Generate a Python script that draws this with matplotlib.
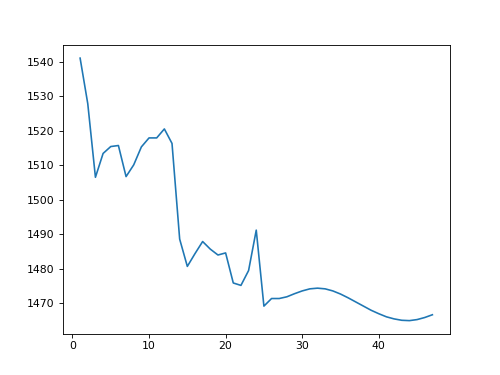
import matplotlib
matplotlib.use('Agg')
import matplotlib.pyplot as plt

# x runs 1..47
steps = list(range(1, 48))
values = [1541.0, 1527.8, 1506.5, 1513.4, 1515.4, 1515.7, 1506.7, 1510.1,
          1515.3, 1517.9, 1517.9, 1520.5, 1516.3, 1488.6, 1480.7, 1484.4,
          1487.9, 1485.7, 1484.0, 1484.6, 1475.9, 1475.2, 1479.5, 1491.2,
          1469.2, 1471.4, 1471.4, 1471.9, 1472.8, 1473.6, 1474.2, 1474.4,
          1474.2, 1473.6, 1472.7, 1471.6, 1470.4, 1469.2, 1468.0, 1467.0,
          1466.1, 1465.5, 1465.1, 1465.0, 1465.3, 1465.9, 1466.7]

fig, ax = plt.subplots(figsize=(6.4, 4.8), dpi=78.125)
ax.plot(steps, values)

plt.savefig('out.png')
